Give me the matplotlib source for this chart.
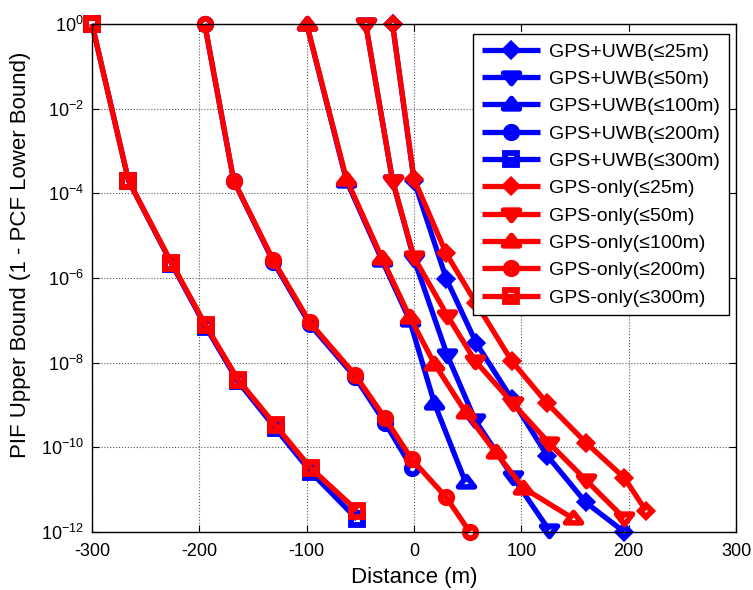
import matplotlib
matplotlib.use("Agg")
import matplotlib.pyplot as plt
from matplotlib.ticker import NullLocator, LogFormatterMathtext
from matplotlib.markers import MarkerStyle
from matplotlib.path import Path

plt.rcParams['font.family'] = ['Liberation Sans', 'DejaVu Sans']
plt.rcParams['mathtext.fontset'] = 'custom'
plt.rcParams['mathtext.rm'] = 'Liberation Sans'
plt.rcParams['mathtext.it'] = 'Liberation Sans:italic'
plt.rcParams['mathtext.default'] = 'regular'
plt.rcParams['axes.unicode_minus'] = False

# ---------------- data ----------------
x_25 = [-20, 0, 30, 58, 91, 124, 160, 196, 216]
uwb_25 = [1, 2e-4, 9.7e-7, 2.9e-8, 1.4e-9, 6.4e-11, 5e-12, 1e-12]
gps_25 = [1, 2.2e-4, 3.8e-6, 2.5e-7, 1.1e-8, 1.1e-9, 1.3e-10, 1.9e-11, 3.2e-12]

x_50 = [-45, -20, 0, 31, 57, 92, 126, 160, 196]
uwb_50 = [1, 2e-4, 2.8e-6, 1.5e-8, 4.4e-10, 2e-11, 1.1e-12]
gps_50 = [1, 2e-4, 3.1e-6, 1.3e-7, 1.1e-8, 1.1e-9, 1.25e-10, 1.7e-11, 2.1e-12]

x_100 = [-100, -63, -30, -4, 19, 48, 76, 102, 148]
uwb_100 = [1, 2e-4, 2.7e-6, 1e-7, 1.1e-9, 1.5e-11]
gps_100 = [1, 2.2e-4, 3e-6, 1.2e-7, 9.5e-9, 6.8e-10, 7.6e-11, 1.1e-11, 2.1e-12]

x_200 = [-195, -168, -131, -97, -55, -27, -2, 30, 52]
uwb_200 = [1, 2e-4, 2.4e-6, 8e-8, 4.6e-9, 3.8e-10, 3.3e-11]
gps_200 = [1, 2e-4, 2.6e-6, 8.9e-8, 5.2e-9, 4.9e-10, 5.2e-11, 6.6e-12, 1e-12]

x_300 = [-300, -266, -226, -194, -164, -129, -96, -53]
uwb_300 = [1, 2e-4, 2.2e-6, 7e-8, 3.6e-9, 2.8e-10, 2.6e-11, 2e-12]
gps_300 = [1, 2e-4, 2.3e-6, 7.6e-8, 4e-9, 3.3e-10, 3.2e-11, 3.2e-12]

ranges = ['25', '50', '100', '200', '300']
xs = [x_25, x_50, x_100, x_200, x_300]
uwb = [uwb_25, uwb_50, uwb_100, uwb_200, uwb_300]
gps = [gps_25, gps_50, gps_100, gps_200, gps_300]

x_ticks = [-300, -200, -100, 0, 100, 200, 300]
y_ticks = [1e-12, 1e-10, 1e-8, 1e-6, 1e-4, 1e-2, 1e0]

# ---------------- marker styles (MATLAB-like wide triangles) ----------------
tri_down = Path([(-1, 0.55), (1, 0.55), (0, -0.75), (-1, 0.55)],
                [Path.MOVETO, Path.LINETO, Path.LINETO, Path.CLOSEPOLY])
tri_up = Path([(-1, -0.55), (1, -0.55), (0, 0.75), (-1, -0.55)],
              [Path.MOVETO, Path.LINETO, Path.LINETO, Path.CLOSEPOLY])
markers = [MarkerStyle('D', joinstyle='miter'),
           MarkerStyle(tri_down, joinstyle='miter'),
           MarkerStyle(tri_up, joinstyle='miter'),
           MarkerStyle('o'),
           MarkerStyle('s', joinstyle='miter')]
msizes = [6.0, 11.5, 11.5, 8.2, 8.0]
mews = [4.2, 4.0, 4.0, 4.2, 4.2]

# ---------------- figure ----------------
fig = plt.figure(figsize=(7.53, 5.90), dpi=100)
ax = fig.add_axes([92/753, 1-532/590, (736-92)/753, (532-24)/590])

lw = 3.8
for r, x, y, m, ms, mew in zip(ranges, xs, uwb, markers, msizes, mews):
    ax.plot(x[:len(y)], y, color=(0, 0, 1), lw=lw, marker=m, ms=ms,
            mfc='none', mec=(0, 0, 1), mew=mew, clip_on=False,
            solid_capstyle='butt', label='GPS+UWB(\u2264%sm)' % r)
for r, x, y, m, ms, mew in zip(ranges, xs, gps, markers, msizes, mews):
    ax.plot(x[:len(y)], y, color=(1, 0, 0), lw=lw, marker=m, ms=ms,
            mfc='none', mec=(1, 0, 0), mew=mew, clip_on=False,
            solid_capstyle='butt', label='GPS-only(\u2264%sm)' % r)

ax.set_yscale('log')
ax.set_xlim(-300, 300)
ax.set_ylim(1e-12, 1e0)
ax.set_xticks(x_ticks)
ax.set_yticks(y_ticks)
ax.yaxis.set_major_formatter(LogFormatterMathtext())
ax.yaxis.set_minor_locator(NullLocator())
ax.tick_params(axis='both', which='major', direction='in', length=5,
               top=True, right=True, labelsize=13, width=0.8)
ax.tick_params(axis='x', pad=8)
ax.tick_params(axis='y', pad=6)
ax.grid(True, which='major', linestyle=':', color=(0.35, 0.35, 0.35), linewidth=0.8)
for s in ax.spines.values():
    s.set_linewidth(1.0)

ax.set_xlabel('Distance (m)', fontsize=16, labelpad=5)
ax.set_ylabel('PIF Upper Bound (1 - PCF Lower Bound)', fontsize=16)
ax.yaxis.set_label_coords(-0.094, 0.545)

leg = ax.legend(loc='upper right', bbox_to_anchor=(0.989, 0.980), borderaxespad=0,
                fontsize=14, fancybox=False, framealpha=1, edgecolor='black',
                handlelength=3.0, handletextpad=0.46, labelspacing=0.5,
                borderpad=0.45)
leg.get_frame().set_linewidth(1.0)

fig.savefig('out.png', dpi=100)
